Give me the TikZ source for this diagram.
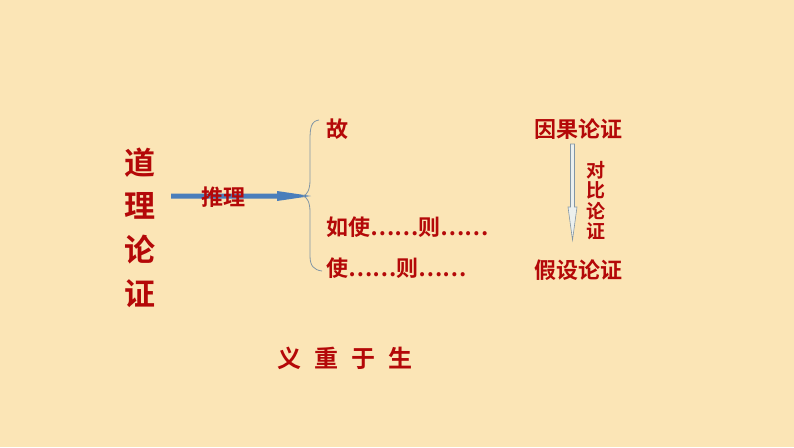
\documentclass[tikz,border=0pt]{standalone}
\usepackage{fontspec}
\setmainfont{Noto Sans CJK SC}[BoldFont=* Bold]
\newfontfamily\cjk{Noto Sans CJK SC Bold}
\usetikzlibrary{arrows.meta}
\definecolor{bg}{RGB}{251,229,182}
\definecolor{txt}{RGB}{180,8,8}
\definecolor{blu}{RGB}{74,126,187}
\definecolor{gline}{RGB}{130,150,165}
\definecolor{afill}{RGB}{236,240,238}
\tikzset{
  lbl/.style={text=txt, font=\cjk\fontsize{22}{26}\selectfont, inner sep=0pt},
  big/.style={text=txt, font=\cjk\fontsize{31}{34}\selectfont, inner sep=0pt},
  small/.style={text=txt, font=\cjk\fontsize{19}{21}\selectfont, inner sep=0pt},
}
\begin{document}
\begin{tikzpicture}[x=1pt,y=-1pt]
\fill[bg] (0,0) rectangle (794,447);
\useasboundingbox (0,0) rectangle (794,447);
% left vertical title
\node[big] (d1) at (140,163) {道};
\node[big] (d2) at (140,206) {理};
\node[big] (d3) at (140,250) {论};
\node[big] (d4) at (140,294) {证};
% blue arrow
\coordinate (as) at (171,196);
\coordinate (ae) at (311,196);
\fill[blu] (171,193.5) -- (277,193.5) -- (277,191) -- (ae) -- (277,201) -- (277,198.5) -- (171,198.5) -- cycle;
\node[lbl] (tl) at (223,197) {推理};
% brace
\coordinate (bt) at (319,120);
\coordinate (bm) at (303,196);
\coordinate (bb) at (322,271);
\draw[gline, line width=0.8pt] (bt) .. controls (311,121) and (310,128) .. (310,140)
  -- (310,180) .. controls (310,190) and (307,195) .. (bm)
  .. controls (307,197) and (310,202) .. (310,212)
  -- (310,256) .. controls (310,266) and (314,270) .. (bb);
% branches
\node[lbl, anchor=west] (g) at (326,129) {故};
\node[lbl, anchor=west] (r) at (326,227) {如使……则……};
\node[lbl, anchor=west] (s) at (326,268) {使……则……};
% right column
\node[lbl] (yg) at (578,129) {因果论证};
\node[lbl] (jl) at (578,270) {假设论证};
\draw[gline, fill=afill, line width=0.6pt] (570.5,144) -- (574.5,144) -- (574.5,207) -- (577,207) -- (572.5,240) -- (568,207) -- (570.5,207) -- cycle;
\node[small] (c1) at (596,170) {对};
\node[small] (c2) at (596,190) {比};
\node[small] (c3) at (596,211) {论};
\node[small] (c4) at (596,231) {证};
% bottom
\node[lbl, font=\cjk\fontsize{24}{26}\selectfont] (yz) at (345,358) {义\hspace{0.55em}重\hspace{0.55em}于\hspace{0.55em}生};
\end{tikzpicture}
\end{document}
